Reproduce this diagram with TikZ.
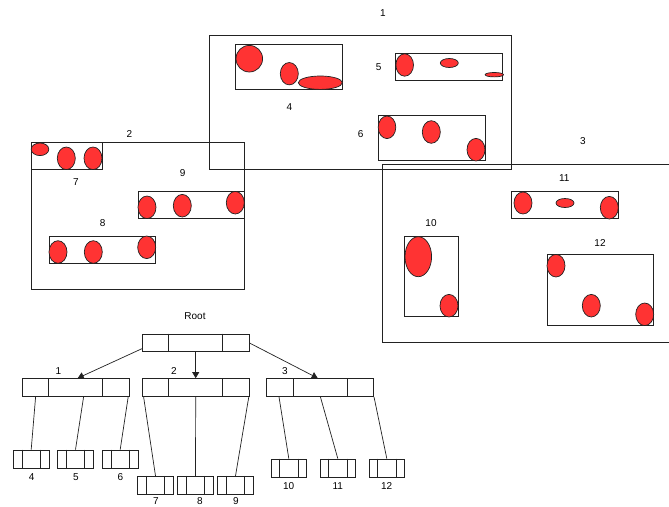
\documentclass[tikz,border=0pt]{standalone}
\usepackage{fontspec}
\setmainfont{Liberation Sans}
\usetikzlibrary{shapes.geometric,arrows.meta}
\definecolor{blobred}{HTML}{FF3333}
\definecolor{edge}{HTML}{222222}
\tikzset{
  region/.style={draw=edge, line width=0.9pt, rectangle, inner sep=0pt},
  blob/.style={draw=edge, line width=0.7pt, fill=blobred, ellipse, inner sep=0pt},
  lbl/.style={inner sep=0pt, font=\fontsize{10}{12}\selectfont},
  tnode/.style={draw=edge, line width=0.9pt, rectangle, inner sep=0pt, minimum width=106.7pt, minimum height=17.8pt},
  leaf/.style={draw=edge, line width=0.9pt, rectangle, inner sep=0pt, minimum width=35.7pt, minimum height=18pt},
  link/.style={draw=edge, line width=0.7pt},
  arr/.style={draw=edge, line width=0.7pt, -{Triangle[length=6pt,width=7pt]}}
}
\begin{document}
\begin{tikzpicture}[x=1pt,y=-1pt]
\clip (0,0) rectangle (669,506);
\fill[white] (0,0) rectangle (669,506);
% region 1
\node[region, minimum width=302pt, minimum height=133.7pt] (r1) at (360,102.2) {};
\node[lbl] (t1) at (383,13.3) {1};
\node[region, minimum width=107pt, minimum height=44.7pt] (r4) at (289.2,66.7) {};
\node[lbl] (t4) at (289.3,107.3) {4};
\node[blob, minimum width=26.6pt, minimum height=26.6pt] (e4a) at (249.3,58.7) {};
\node[blob, minimum width=18pt, minimum height=22.4pt] (e4b) at (289.3,73.7) {};
\node[blob, minimum width=44pt, minimum height=13.4pt] (e4c) at (320.3,82.7) {};
\node[region, minimum width=107pt, minimum height=27pt] (r5) at (449.2,66.8) {};
\node[lbl] (t5) at (378.7,66.7) {5};
\node[blob, minimum width=17.6pt, minimum height=22.4pt] (e5a) at (404.7,65) {};
\node[blob, minimum width=18pt, minimum height=9pt] (e5b) at (449.3,63) {};
\node[blob, minimum width=18.4pt, minimum height=4.4pt] (e5c) at (494.3,74.7) {};
\node[region, minimum width=106.7pt, minimum height=44.6pt] (r6) at (431.7,138) {};
\node[lbl] (t6) at (360.7,133.7) {6};
\node[blob, minimum width=17.6pt, minimum height=22.6pt] (e6a) at (387,127.3) {};
\node[blob, minimum width=18pt, minimum height=22.6pt] (e6b) at (431.3,132) {};
\node[blob, minimum width=18pt, minimum height=22.6pt] (e6c) at (476,149.7) {};
% region 2
\node[region, minimum width=213.4pt, minimum height=146.6pt] (r2) at (138,216) {};
\node[lbl] (t2) at (129.3,134) {2};
\node[region, minimum width=71pt, minimum height=26.6pt] (r7) at (66.8,156) {};
\node[lbl] (t7) at (76,182.3) {7};
\node[blob, minimum width=17.6pt, minimum height=12.6pt] (e7a) at (40,149.3) {};
\node[blob, minimum width=18pt, minimum height=22.6pt] (e7b) at (66.3,158.3) {};
\node[blob, minimum width=18pt, minimum height=22.6pt] (e7c) at (93,158.3) {};
\node[region, minimum width=106.7pt, minimum height=27pt] (r9) at (191.3,204.8) {};
\node[lbl] (t9) at (182.7,173.3) {9};
\node[blob, minimum width=18pt, minimum height=22.6pt] (e9a) at (147,207.3) {};
\node[blob, minimum width=18pt, minimum height=22.6pt] (e9b) at (182.3,205.7) {};
\node[blob, minimum width=18pt, minimum height=22.6pt] (e9c) at (235.3,202.7) {};
\node[region, minimum width=106.7pt, minimum height=26.7pt] (r8) at (102.3,249.7) {};
\node[lbl] (t8) at (102.7,222.7) {8};
\node[blob, minimum width=18pt, minimum height=22.6pt] (e8a) at (58,252) {};
\node[blob, minimum width=18pt, minimum height=22.6pt] (e8b) at (93.3,252) {};
\node[blob, minimum width=18pt, minimum height=22.6pt] (e8c) at (146.7,247.3) {};
% region 3
\node[region, minimum width=302pt, minimum height=178pt] (r3) at (533.7,253.7) {};
\node[lbl] (t3) at (583,140.7) {3};
\node[region, minimum width=106.6pt, minimum height=27pt] (r11) at (565,204.8) {};
\node[lbl] (t11) at (564.3,178.3) {11};
\node[blob, minimum width=18pt, minimum height=22pt] (e11a) at (523,203) {};
\node[blob, minimum width=18pt, minimum height=9pt] (e11b) at (565,203) {};
\node[blob, minimum width=18pt, minimum height=22.6pt] (e11c) at (609.3,207.7) {};
\node[region, minimum width=53.6pt, minimum height=80pt] (r10) at (431.5,276) {};
\node[lbl] (t10) at (431,222.7) {10};
\node[blob, minimum width=26.6pt, minimum height=40pt] (e10a) at (418.3,256.7) {};
\node[blob, minimum width=18pt, minimum height=22.6pt] (e10b) at (449,305.7) {};
\node[region, minimum width=106.7pt, minimum height=71.3pt] (r12) at (600.3,289.7) {};
\node[lbl] (t12) at (600,243.3) {12};
\node[blob, minimum width=18pt, minimum height=22.6pt] (e12a) at (556,265.7) {};
\node[blob, minimum width=18pt, minimum height=22.6pt] (e12b) at (591.3,305.7) {};
\node[blob, minimum width=18pt, minimum height=22.6pt] (e12c) at (644.7,314.3) {};
% tree
\node[lbl] (troot) at (195,316) {Root};
\node[tnode] (root) at (195.7,343) {};
\node[tnode] (n1) at (75.7,387.5) {};
\node[tnode] (n2) at (195.7,387.5) {};
\node[tnode] (n3) at (320.2,387.5) {};
\node[lbl] (tn1) at (58.3,370.7) {1};
\node[lbl] (tn2) at (174,370.7) {2};
\node[lbl] (tn3) at (285,370.7) {3};
\foreach \n in {root,n1,n2,n3}{
  \draw[link] ([xshift=26.7pt]\n.north west) -- ([xshift=26.7pt]\n.south west);
  \draw[link] ([xshift=-26.7pt]\n.north east) -- ([xshift=-26.7pt]\n.south east);
}
\node[leaf] (l4) at (31.2,459) {};
\node[leaf] (l5) at (75.5,459) {};
\node[leaf] (l6) at (120.2,459) {};
\node[leaf] (l7) at (155.5,485.3) {};
\node[leaf] (l8) at (195.5,485.3) {};
\node[leaf] (l9) at (235.5,485.3) {};
\node[leaf] (l10) at (288.8,468) {};
\node[leaf] (l11) at (337.8,468) {};
\node[leaf] (l12) at (386.8,468) {};
\foreach \n in {l4,l5,l6,l7,l8,l9,l10,l11,l12}{
  \draw[link] ([xshift=9pt]\n.north west) -- ([xshift=9pt]\n.south west);
  \draw[link] ([xshift=-9pt]\n.north east) -- ([xshift=-9pt]\n.south east);
}
\node[lbl] (tl4) at (31.7,476.7) {4};
\node[lbl] (tl5) at (76,476.7) {5};
\node[lbl] (tl6) at (120.3,476.7) {6};
\node[lbl] (tl7) at (156,501.2) {7};
\node[lbl] (tl8) at (200,501.2) {8};
\node[lbl] (tl9) at (236,501.2) {9};
\node[lbl] (tl10) at (288.7,485.7) {10};
\node[lbl] (tl11) at (337.7,485.7) {11};
\node[lbl] (tl12) at (386.7,485.7) {12};
% arrows
\draw[arr] ([yshift=-5.7pt]root.west) -- ([xshift=2pt]n1.north);
\draw[arr] (root.south) -- (n2.north);
\draw[arr] (root.east) -- ([xshift=-2.5pt]n3.north);
% links
\draw[link] ([xshift=13.7pt]n1.south west) -- (l4.north);
\draw[link] ([xshift=61.7pt]n1.south west) -- (l5.north);
\draw[link] ([xshift=-1.3pt]n1.south east) -- (l6.north);
\draw[link] ([xshift=1.7pt]n2.south west) -- (l7.north);
\draw[link] (n2.south) -- (l8.north);
\draw[link] ([xshift=-0.7pt]n2.south east) -- (l9.north);
\draw[link] ([xshift=12.6pt]n3.south west) -- (l10.north);
\draw[link] ([xshift=54pt]n3.south west) -- (l11.north);
\draw[link] (n3.south east) -- (l12.north);
\end{tikzpicture}
\end{document}
